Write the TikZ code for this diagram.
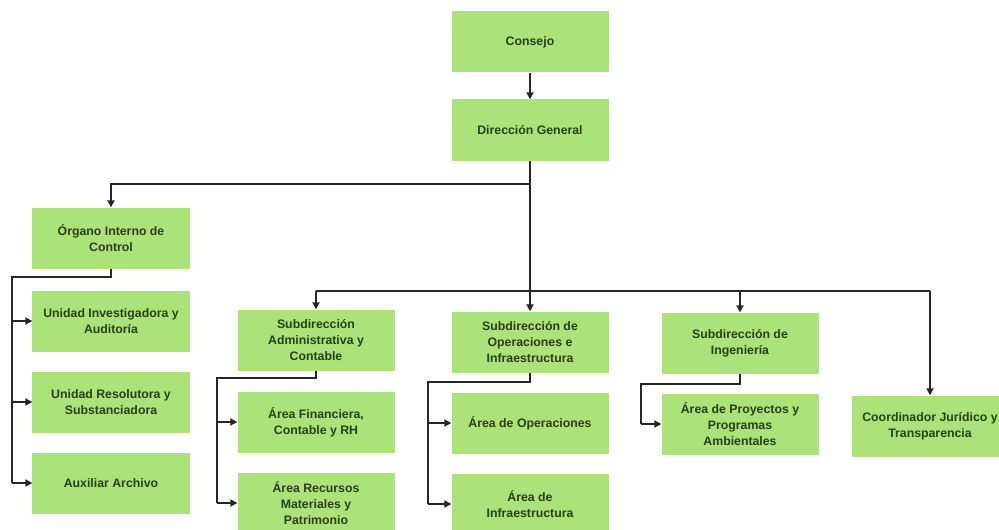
\documentclass[tikz,border=0pt]{standalone}
\usepackage{fontspec}
\setmainfont{Liberation Sans}
\usetikzlibrary{arrows.meta}
\definecolor{boxgreen}{RGB}{172,226,122}
\definecolor{boxtext}{RGB}{38,66,20}
\tikzset{
  unitbox/.style={fill=boxgreen, minimum width=78.5mm, minimum height=30.5mm,
    align=center, inner sep=0pt, text=boxtext,
    font=\bfseries\fontsize{17.5}{22.5}\selectfont},
  link/.style={line width=2.6pt, draw=black!85},
  tip/.style={link, -{Triangle[length=3.5mm, width=3.5mm]}}
}
\begin{document}
\begin{tikzpicture}[x=0.5mm, y=-0.5mm]
        \useasboundingbox[fill=white] (0,0) rectangle (999,530);

        % Top of the chart
        \node[unitbox] (consejo) at (530,42) {Consejo};
        \node[unitbox] (dg) at (530,130) {Dirección General};

        % Organo interno and its units
        \node[unitbox] (oic) at (111,238) {Órgano Interno de\\Control};
        \node[unitbox] (uia) at (111,321) {Unidad Investigadora y\\Auditoría};
        \node[unitbox] (urs) at (111,402) {Unidad Resolutora y\\Substanciadora};
        \node[unitbox] (aux) at (111,483) {Auxiliar Archivo};

        % Subdirecciones
        \node[unitbox] (sadm) at (316,340) {Subdirección\\Administrativa y\\Contable};
        \node[unitbox] (sops) at (530,342) {Subdirección de\\Operaciones e\\Infraestructura};
        \node[unitbox] (sing) at (740,343) {Subdirección de\\Ingeniería};
        \node[unitbox] (cjt) at (930,426) {Coordinador Jurídico y\\Transparencia};

        % Areas
        \node[unitbox] (afc) at (316,422) {Área Financiera,\\Contable y RH};
        \node[unitbox] (arm) at (316,503) {Área Recursos\\Materiales y\\Patrimonio};
        \node[unitbox] (aop) at (530,423) {Área de Operaciones};
        \node[unitbox] (ainf) at (530,504) {Área de\\Infraestructura};
        \node[unitbox] (apa) at (740,424) {Área de Proyectos y\\Programas\\Ambientales};

        % Connectors from the top
        \draw[tip] (consejo) -- (dg);
        \draw[tip] (dg.south) -- ++(0,23) -| (oic.north);
        \draw[link] (dg.south) -- ++(0,130) coordinate (bus);
        \draw[link] (sadm.north |- bus) -- (cjt.north |- bus);
        \foreach \n in {sadm, sops, sing, cjt}
          \draw[tip] (\n.north |- bus) -- (\n.north);

        % Rails on the left of each group
        \coordinate (oicrail) at (12,277);
        \coordinate (admrail) at (217,378);
        \coordinate (opsrail) at (428,382);
        \coordinate (ingrail) at (641,384);
        \draw[link] (oic.south) |- (oicrail) -- (oicrail |- aux.west);
        \draw[link] (sadm.south) |- (admrail) -- (admrail |- arm.west);
        \draw[link] (sops.south) |- (opsrail) -- (opsrail |- ainf.west);
        \draw[link] (sing.south) |- (ingrail) -- (ingrail |- apa.west);
        \foreach \n in {uia, urs, aux}
          \draw[tip] (oicrail |- \n.west) -- (\n.west);
        \foreach \n in {afc, arm}
          \draw[tip] (admrail |- \n.west) -- (\n.west);
        \foreach \n in {aop, ainf}
          \draw[tip] (opsrail |- \n.west) -- (\n.west);
        \draw[tip] (ingrail |- apa.west) -- (apa.west);
      \end{tikzpicture}
\end{document}
